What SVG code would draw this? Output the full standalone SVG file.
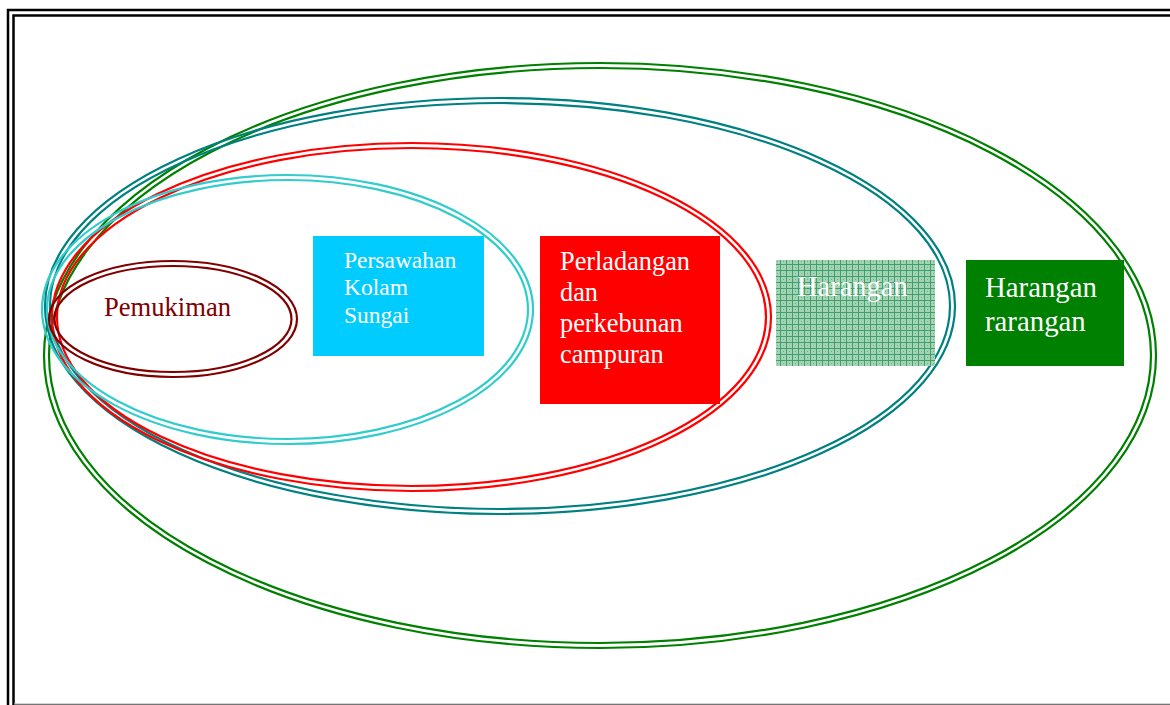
<svg xmlns="http://www.w3.org/2000/svg" width="1170" height="705" viewBox="0 0 1170 705">
<defs>
<style>
.frame{fill:none;stroke:#000;stroke-width:2.5}
.ring{fill:none;stroke-width:2.2}
.g{stroke:#008000}.t{stroke:#008080}.r{stroke:#ff0000}.c{stroke:#33cccc}.d{stroke:#800000}
.lbl{font-family:"Liberation Serif","Times New Roman",serif;fill:#fff}
</style>
<pattern id="hatch" width="6" height="6" patternUnits="userSpaceOnUse">
<rect width="6" height="6" fill="#a4d3b4"/>
<path d="M0 0.5H6M0.5 0V6" stroke="#3f9f6f" stroke-width="1"/>
<rect x="3" y="3" width="1" height="1" fill="#6cb68c"/>
</pattern>
</defs>
<rect width="1170" height="705" fill="#fff"/>
<g id="frame">
<rect class="frame" x="8" y="10" width="1180" height="710"/>
<rect class="frame" x="13.5" y="15.5" width="1180" height="690"/>
<line x1="14" y1="704" x2="1170" y2="704" stroke="#aaa" stroke-width="1"/>
</g>
<g id="ring-harangan-rarangan">
<ellipse class="ring g" cx="600" cy="355.5" rx="556" ry="292.5"/>
<ellipse class="ring g" cx="600" cy="355.5" rx="551" ry="287.5"/>
</g>
<g id="ring-harangan">
<ellipse class="ring t" cx="500" cy="306" rx="455" ry="208"/>
<ellipse class="ring t" cx="500" cy="306" rx="450" ry="203"/>
</g>
<g id="ring-perladangan">
<ellipse class="ring r" cx="411.5" cy="317" rx="359.5" ry="174"/>
<ellipse class="ring r" cx="411.5" cy="317" rx="354.5" ry="169"/>
</g>
<g id="ring-persawahan">
<ellipse class="ring c" cx="287.5" cy="309.5" rx="245.5" ry="134.5"/>
<ellipse class="ring c" cx="287.5" cy="309.5" rx="240.5" ry="129.5"/>
</g>
<g id="pemukiman">
<ellipse class="ring d" cx="173" cy="319" rx="124" ry="58"/>
<ellipse class="ring d" cx="173" cy="319" rx="118.5" ry="53"/>
<text x="104" y="316" font-family="Liberation Serif,'Times New Roman',serif" font-size="26.6" fill="#800000">Pemukiman</text>
</g>
<g id="persawahan">
<rect x="313" y="236" width="171" height="120" fill="#00ccff"/>
<text class="lbl" font-size="23.5"><tspan x="344" y="268">Persawahan</tspan><tspan x="344" y="295">Kolam</tspan><tspan x="344" y="323">Sungai</tspan></text>
</g>
<g id="perladangan">
<rect x="540" y="236" width="180" height="168" fill="#ff0000"/>
<text class="lbl" font-size="26.3"><tspan x="560" y="270">Perladangan</tspan><tspan x="560" y="301">dan</tspan><tspan x="560" y="332">perkebunan</tspan><tspan x="560" y="363">campuran</tspan></text>
</g>
<g id="harangan">
<rect x="776" y="260" width="159" height="106" fill="url(#hatch)"/>
<text class="lbl" x="797" y="296" font-size="28.5">Harangan</text>
</g>
<g id="harangan-rarangan">
<rect x="966" y="260" width="158" height="106" fill="#008000"/>
<text class="lbl" font-size="28.8"><tspan x="985" y="297">Harangan</tspan><tspan x="985" y="331">rarangan</tspan></text>
</g>
</svg>
